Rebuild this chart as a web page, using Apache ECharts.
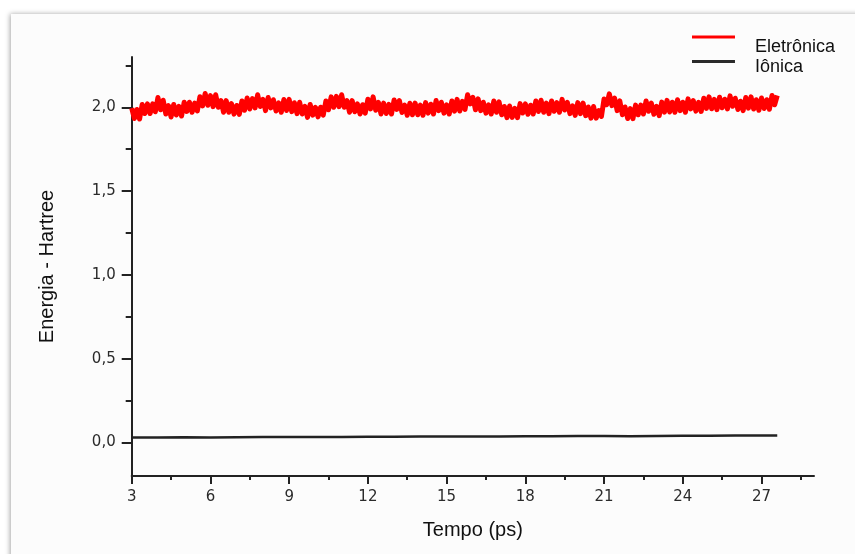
<!DOCTYPE html>
<html>
<head>
<meta charset="utf-8">
<title>Energia - Hartree</title>
<script src="https://cdn.jsdelivr.net/npm/echarts@6/dist/echarts.min.js"></script>
<style>
  html, body { margin: 0; padding: 0; background: #ffffff; }
  #chart { width: 855px; height: 554px; }
</style>
</head>
<body>
<div id="chart"></div>
<script>
// Electronic energy, sampled every 0.1 ps starting at 3.0 ps
const eletronicaStartPs = 3.0;
const eletronicaStepPs = 0.1;
const eletronica = [
  1.995, 1.933, 1.987, 1.930, 2.017, 1.963, 2.020, 1.963, 2.020, 1.973,
  2.058, 1.985, 2.042, 1.960, 2.010, 1.942, 2.017, 1.954, 2.006, 1.948,
  2.030, 1.975, 2.030, 1.970, 2.025, 1.978, 2.063, 2.008, 2.082, 2.012,
  2.070, 2.004, 2.075, 2.000, 2.040, 1.970, 2.040, 1.970, 2.022, 1.959,
  2.011, 1.958, 2.038, 1.982, 2.055, 1.990, 2.052, 1.996, 2.075, 2.005,
  2.048, 1.980, 2.058, 1.996, 2.045, 1.978, 2.026, 1.970, 2.046, 1.981,
  2.047, 1.974, 2.027, 1.962, 2.030, 1.960, 2.005, 1.940, 2.017, 1.953,
  2.000, 1.943, 2.000, 1.953, 2.038, 1.985, 2.062, 2.000, 2.065, 2.004,
  2.075, 2.000, 2.040, 1.970, 2.040, 1.973, 2.020, 1.960, 2.015, 1.965,
  2.048, 1.990, 2.062, 1.982, 2.030, 1.960, 2.025, 1.963, 2.017, 1.960,
  2.044, 1.987, 2.040, 1.969, 2.013, 1.952, 2.024, 1.955, 2.025, 1.955,
  2.013, 1.952, 2.028, 1.965, 2.018, 1.960, 2.040, 1.980, 2.030, 1.965,
  2.015, 1.960, 2.038, 1.977, 2.047, 1.978, 2.035, 1.987, 2.075, 2.020,
  2.060, 1.985, 2.050, 1.980, 2.030, 1.965, 2.015, 1.960, 2.038, 1.970,
  2.032, 1.955, 2.005, 1.938, 2.008, 1.940, 1.994, 1.938, 2.022, 1.966,
  2.020, 1.958, 2.012, 1.960, 2.038, 1.975, 2.042, 1.970, 2.025, 1.962,
  2.038, 1.976, 2.028, 1.970, 2.047, 1.984, 2.030, 1.962, 2.009, 1.952,
  2.028, 1.962, 2.025, 1.950, 2.002, 1.935, 2.005, 1.935, 1.980, 1.945,
  2.050, 2.015, 2.080, 2.010, 2.055, 1.980, 2.038, 1.955, 2.002, 1.933,
  1.992, 1.932, 2.013, 1.955, 2.013, 1.960, 2.038, 1.976, 2.025, 1.958,
  2.006, 1.950, 2.031, 1.971, 2.041, 1.972, 2.030, 1.970, 2.045, 1.980,
  2.030, 1.970, 2.050, 1.990, 2.040, 1.977, 2.029, 1.975, 2.054, 1.993,
  2.062, 1.991, 2.047, 1.986, 2.060, 1.997, 2.048, 1.990, 2.068, 2.006,
  2.054, 1.987, 2.036, 1.980, 2.058, 1.995, 2.062, 1.990, 2.045, 1.982,
  2.055, 1.993, 2.045, 1.988, 2.070, 2.015, 2.070
];

// Ionic energy
const ionicaTimePs = [3, 4, 5, 6, 7, 8, 9, 10, 11, 12, 13, 14, 15, 16, 17, 18, 19, 20, 21, 22, 23, 24, 25, 26, 27, 27.6];
const ionica = [0.030, 0.030, 0.031, 0.030, 0.031, 0.032, 0.032, 0.033, 0.033, 0.034, 0.034, 0.035, 0.035,
                0.036, 0.036, 0.037, 0.037, 0.038, 0.038, 0.037, 0.039, 0.040, 0.040, 0.041, 0.041, 0.042];

// Axis tick positions
const xMajorTicks = [3, 6, 9, 12, 15, 18, 21, 24, 27];
const xMinorTicks = [4.5, 7.5, 10.5, 13.5, 16.5, 19.5, 22.5, 25.5, 28.5];
const yMajorTicks = [0, 0.5, 1.0, 1.5, 2.0];
const yMinorTicks = [0.25, 0.75, 1.25, 1.75, 2.25];

const seriesNames = ['Eletrônica', 'Iônica'];

const eletronicaData = eletronica.map((v, i) => [+(eletronicaStartPs + i * eletronicaStepPs).toFixed(1), v]);
const ionicaData = ionica.map((v, i) => [ionicaTimePs[i], v]);

const FONT = '"Liberation Sans", Arial, sans-serif';
const TICK_FONT = '"DejaVu Sans", sans-serif';
const axisColor = '#222222';

const chart = echarts.init(document.getElementById('chart'), null, { renderer: 'canvas' });

const majorX = {
  type: 'value', min: 3, max: 29, position: 'bottom',
  axisLine: { show: true, onZero: false, lineStyle: { color: axisColor, width: 2 } },
  axisTick: { show: true, customValues: xMajorTicks, length: 8, lineStyle: { color: axisColor, width: 2 } },
  axisLabel: { customValues: xMajorTicks, margin: 14, fontSize: 15, color: '#2b2b2b', fontFamily: TICK_FONT },
  splitLine: { show: false },
  name: 'Tempo (ps)', nameLocation: 'middle', nameGap: 44,
  nameTextStyle: { fontSize: 20, color: '#111111', fontFamily: FONT }
};
const minorX = {
  type: 'value', min: 3, max: 29, position: 'bottom',
  axisLine: { show: false, onZero: false },
  axisTick: { show: true, customValues: xMinorTicks, length: 4, lineStyle: { color: axisColor, width: 2 } },
  axisLabel: { show: false },
  splitLine: { show: false }
};
const majorY = {
  type: 'value', min: -0.2, max: 2.3, position: 'left',
  axisLine: { show: true, onZero: false, lineStyle: { color: axisColor, width: 2 } },
  axisTick: { show: true, customValues: yMajorTicks, length: 10, lineStyle: { color: axisColor, width: 2 } },
  axisLabel: {
    customValues: yMajorTicks, margin: 16, fontSize: 15, color: '#2b2b2b', fontFamily: TICK_FONT,
    formatter: v => v.toFixed(1).replace('.', ',')
  },
  splitLine: { show: false },
  name: 'Energia - Hartree', nameLocation: 'middle', nameGap: 74,
  nameTextStyle: { fontSize: 20, color: '#111111', fontFamily: FONT }
};
const minorY = {
  type: 'value', min: -0.2, max: 2.3, position: 'left',
  axisLine: { show: false, onZero: false },
  axisTick: { show: true, customValues: yMinorTicks, length: 6, lineStyle: { color: axisColor, width: 2 } },
  axisLabel: { show: false },
  splitLine: { show: false }
};

// Legend line icons: a 3px bar at the top of the item box, so the label sits a little below the line
const iconEletronica = 'path://M0,0L43,0L43,3L0,3Z M0,23L0.01,23L0.01,23.01Z';
const iconIonica = 'path://M0,0L43,0L43,3L0,3Z M0,15L0.01,15L0.01,15.01Z';

const legendBase = {
  orient: 'vertical', left: 692, padding: 0, itemWidth: 43,
  selectedMode: false
};
const legendText = { fontSize: 18, color: '#111111', fontFamily: FONT, padding: [0, 0, 0, 15] };

chart.setOption({
  animation: false,
  backgroundColor: '#ffffff',
  graphic: [{
    type: 'rect', z: -10, silent: true,
    shape: { x: 11, y: 14, width: 900, height: 600 },
    style: { fill: '#fcfcfc', shadowColor: 'rgba(0,0,0,0.35)', shadowBlur: 5, shadowOffsetX: -1, shadowOffsetY: 0 }
  }],
  grid: { left: 131.7, right: 41, top: 57, bottom: 78, containLabel: false },
  xAxis: [majorX, minorX],
  yAxis: [majorY, minorY],
  legend: [
    Object.assign({}, legendBase, {
      top: 35.5, itemHeight: 23, data: [{ name: seriesNames[0], icon: iconEletronica }],
      textStyle: legendText
    }),
    Object.assign({}, legendBase, {
      top: 58.5, itemHeight: 15, data: [{ name: seriesNames[1], icon: iconIonica }],
      textStyle: legendText
    })
  ],
  series: [
    {
      name: seriesNames[0], type: 'line', xAxisIndex: 0, yAxisIndex: 0,
      data: eletronicaData, showSymbol: false, symbol: 'none',
      lineStyle: { color: '#ff0000', width: 5, join: 'round' }, itemStyle: { color: '#ff0000' },
      z: 3
    },
    {
      name: seriesNames[1], type: 'line', xAxisIndex: 0, yAxisIndex: 0,
      data: ionicaData, showSymbol: false, symbol: 'none',
      lineStyle: { color: '#222222', width: 2.5 }, itemStyle: { color: '#2a2a2a' },
      z: 4
    }
  ]
});
</script>
</body>
</html>
